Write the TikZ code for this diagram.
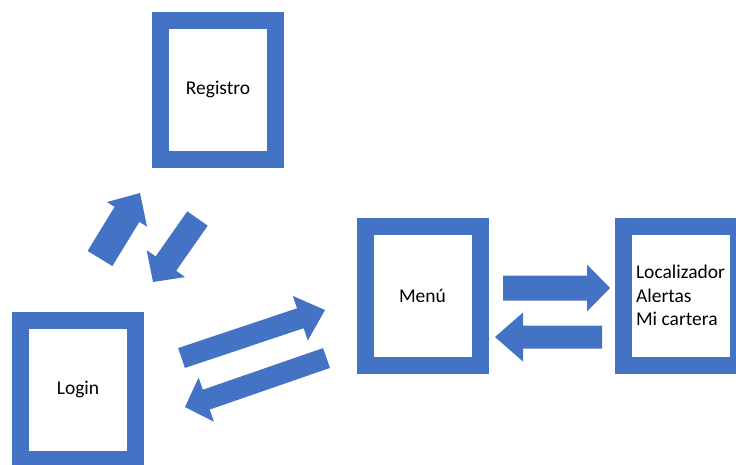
\documentclass[tikz,border=0pt]{standalone}
\usepackage{fontspec}
\setmainfont{Carlito}
\usetikzlibrary{calc,positioning}
\definecolor{boxblue}{RGB}{68,114,196}
\tikzset{
	screen/.style={draw=boxblue,line width=17pt,fill=white,minimum width=115pt,minimum height=139pt,inner sep=0pt,font=\fontsize{19.5}{23.5}\selectfont},
	% block arrow from start to target: {half shaft}{half head}{head length}
	blockarrow/.style n args={3}{to path={
		($(\tikztostart)!#1!90:(\tikztotarget)$) -- ($(\tikztotarget)!#3!(\tikztostart)!#1!90:(\tikztotarget)$) -- ($(\tikztotarget)!#3!(\tikztostart)!#2!90:(\tikztotarget)$) -- (\tikztotarget) -- ($(\tikztotarget)!#3!(\tikztostart)!#2!-90:(\tikztotarget)$) -- ($(\tikztotarget)!#3!(\tikztostart)!#1!-90:(\tikztotarget)$) -- ($(\tikztostart)!#1!-90:(\tikztotarget)$) -- cycle}},
}
\begin{document}
\begin{tikzpicture}[x=1pt,y=-1pt]
	\clip (0,0) rectangle (736,464);
	\useasboundingbox (0,0) rectangle (736,464);
	\node[screen] (reg) at (218,89.5) {Registro};
	\node[screen] (login) at (78,389.5) {Login};
	\node[screen] (menu) at (422.5,296) {Menú};
	\node[screen,align=left] (opts) at (680.5,295.5) {Localizador\\Alertas\\Mi cartera};
	\coordinate (lr-s) at (100,258.5); \coordinate (lr-e) at (140,193);
	\coordinate (rl-s) at (197.5,218.5); \coordinate (rl-e) at (153,282);
	\coordinate (lm-s) at (181.5,358); \coordinate (lm-e) at (325,310);
	\coordinate (ml-s) at (326.5,358); \coordinate (ml-e) at (185,407);
	\coordinate (mo-s) at (503,288); \coordinate (mo-e) at (610,288);
	\coordinate (om-s) at (602,337); \coordinate (om-e) at (495,337);
	\fill[boxblue] (lr-s) to[blockarrow={14.5pt}{23.5pt}{25pt}] (lr-e) (rl-s) to[blockarrow={12.5pt}{23.5pt}{22.5pt}] (rl-e);
	\fill[boxblue] (lm-s) to[blockarrow={10.5pt}{23.5pt}{26pt}] (lm-e) (ml-s) to[blockarrow={10.5pt}{23.4pt}{22.5pt}] (ml-e);
	\fill[boxblue] (mo-s) to[blockarrow={12.5pt}{23.5pt}{23pt}] (mo-e) (om-s) to[blockarrow={11.5pt}{24.5pt}{28pt}] (om-e);
\end{tikzpicture}
\end{document}
